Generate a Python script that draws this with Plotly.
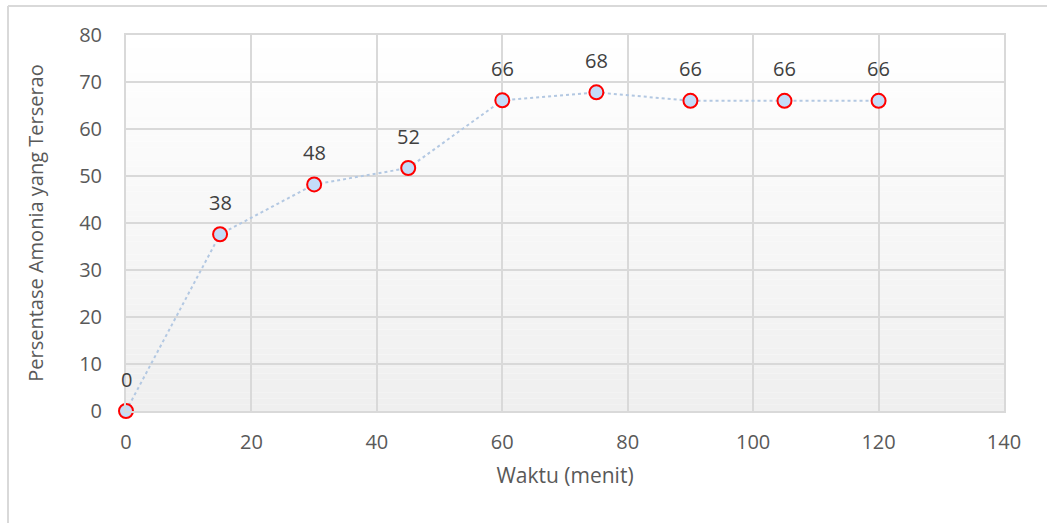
import plotly.graph_objects as go

# Waktu (menit) vs persentase amonia yang terserap
waktu = [0, 15, 30, 45, 60, 75, 90, 105, 120]
persentase = [0, 37.6, 48.2, 51.7, 66.1, 67.8, 66.0, 66.0, 66.0]

x_ticks = [0, 20, 40, 60, 80, 100, 120, 140]
y_ticks = [0, 10, 20, 30, 40, 50, 60, 70, 80]

FONT = "Open Sans"
GRID = "#d9d9d9"
TXT = "#595959"

fig = go.Figure()

fig.add_trace(go.Scatter(
    x=waktu, y=persentase,
    mode="lines+markers",
    line=dict(color="#b3c8e2", width=2, dash="dot"),
    marker=dict(size=14, color="#c4dcf8", line=dict(color="#ff0000", width=2)),
    hoverinfo="x+y",
    showlegend=False,
    cliponaxis=False,
))

# value labels above each point
for xv, yv in zip(waktu, persentase):
    fig.add_annotation(
        x=xv, y=yv, text=f"{yv:.0f}", showarrow=False,
        yshift=32, font=dict(family=FONT, size=20, color="#404040"),
    )

# vertical gradient in the plot area (white at top to light grey at bottom)
shapes = []
n = 60
for i in range(n):
    t = i / (n - 1)
    c = int(round(255 - (255 - 239) * (1 - t)))
    shapes.append(dict(
        type="rect", xref="paper", yref="paper",
        x0=0, x1=1, y0=i / n, y1=(i + 1) / n,
        fillcolor=f"rgb({c},{c},{c})", line=dict(width=0), layer="below",
    ))

# outer chart frame (top and left edges)
frame = dict(color="#d9d9d9", width=2)
shapes.append(dict(type="line", xref="paper", yref="paper",
                   x0=-0.1344, x1=1.06, y0=1.0771, y1=1.0771, line=frame))
shapes.append(dict(type="line", xref="paper", yref="paper",
                   x0=-0.1344, x1=-0.1344, y0=1.0771, y1=-0.31, line=frame))

fig.update_layout(
    width=1047, height=523,
    margin=dict(l=126, r=43, t=35, b=112),
    paper_bgcolor="white",
    plot_bgcolor="rgba(0,0,0,0)",
    shapes=shapes,
    font=dict(family=FONT, size=20, color=TXT),
    xaxis=dict(
        range=[0, 140], tickvals=x_ticks, ticktext=[str(v) for v in x_ticks],
        showgrid=True, gridcolor=GRID, gridwidth=1.5,
        showline=True, linecolor=GRID, linewidth=2, mirror=True,
        zeroline=False, ticks="", ticklabelstandoff=12,
        title=dict(text="Waktu (menit)", font=dict(family=FONT, size=21, color=TXT), standoff=14),
        tickfont=dict(family=FONT, size=20, color=TXT),
    ),
    yaxis=dict(
        range=[0, 80], tickvals=y_ticks, ticktext=[str(v) for v in y_ticks],
        showgrid=True, gridcolor=GRID, gridwidth=1.5,
        showline=True, linecolor=GRID, linewidth=2, mirror=True,
        zeroline=False, ticks="", ticklabelstandoff=18,
        title=dict(text="Persentase Amonia yang Terserao", font=dict(family=FONT, size=20, color=TXT), standoff=30),
        tickfont=dict(family=FONT, size=20, color=TXT),
    ),
)

fig.write_html("out.html")
